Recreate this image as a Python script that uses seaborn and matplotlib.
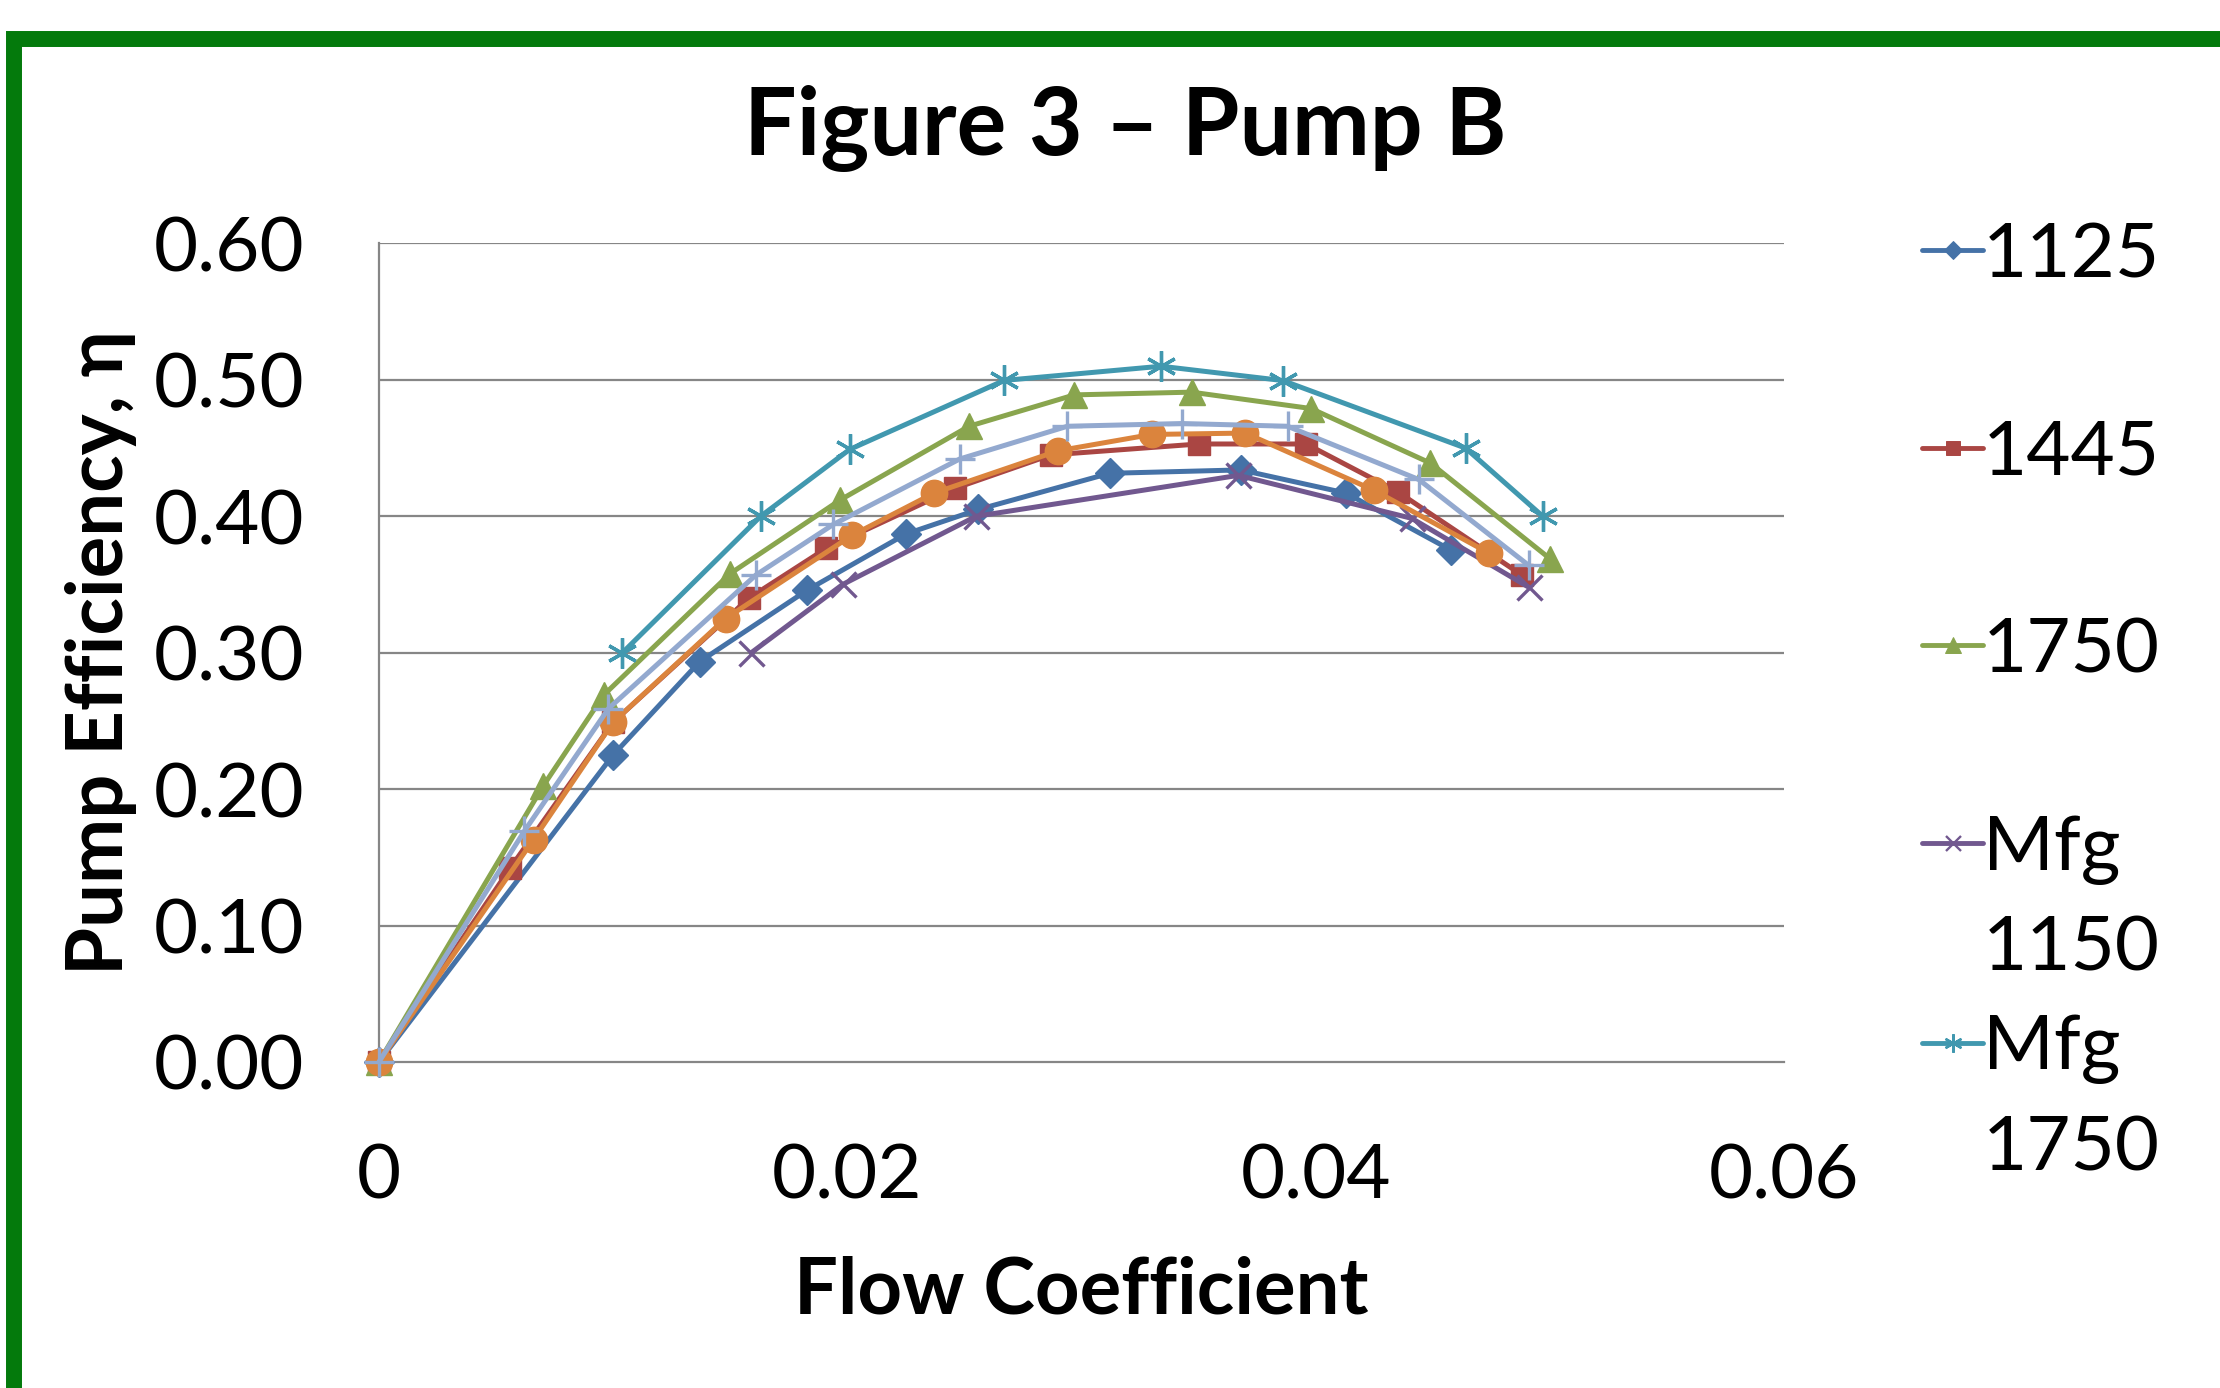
import numpy as np
import pandas as pd
import matplotlib
matplotlib.use("Agg")
import matplotlib.pyplot as plt
from matplotlib.lines import Line2D
from matplotlib.patches import Rectangle
import seaborn as sns

# ===============================
# DATA
# ===============================
phi_1125 = [0, 0.0100, 0.0137, 0.0183, 0.0225, 0.0256, 0.0312, 0.0368, 0.0413, 0.0458]
eta_1125 = [0, 0.225, 0.2935, 0.346, 0.387, 0.405, 0.4315, 0.434, 0.417, 0.375]

phi_1445 = [0, 0.0056, 0.0100, 0.0158, 0.0191, 0.0246, 0.0287, 0.0350, 0.0396, 0.0435, 0.0488]
eta_1445 = [0, 0.142, 0.249, 0.340, 0.3765, 0.4205, 0.445, 0.453, 0.453, 0.418, 0.357]

phi_1750 = [0, 0.0070, 0.0096, 0.0150, 0.0197, 0.0252, 0.0297, 0.0347, 0.0398, 0.0449, 0.0500]
eta_1750 = [0, 0.202, 0.269, 0.358, 0.412, 0.466, 0.489, 0.491, 0.479, 0.439, 0.369]

phi_mfg1150 = [0.0159, 0.0198, 0.0255, 0.0367, 0.0441, 0.0491]
eta_mfg1150 = [0.300, 0.350, 0.400, 0.430, 0.3985, 0.348]

phi_mfg1750 = [0.0104, 0.0163, 0.0201, 0.0267, 0.0334, 0.0386, 0.0464, 0.0497]
eta_mfg1750 = [0.300, 0.400, 0.449, 0.4996, 0.510, 0.4995, 0.450, 0.400]

# two more series on the plot whose legend entries are cut off
phi_s6 = [0, 0.0066, 0.0100, 0.0148, 0.0202, 0.0237, 0.0290, 0.0330, 0.0370, 0.0425, 0.0474]
eta_s6 = [0, 0.163, 0.249, 0.325, 0.386, 0.417, 0.448, 0.460, 0.461, 0.419, 0.373]

phi_s7 = [0, 0.0062, 0.0098, 0.0161, 0.0194, 0.0248, 0.0294, 0.0343, 0.0388, 0.0444, 0.0491]
eta_s7 = [0, 0.169, 0.259, 0.357, 0.394, 0.442, 0.466, 0.468, 0.466, 0.427, 0.364]

series_names = ["1125", "1445", "1750", "Mfg 1150", "Mfg 1750", "s6", "s7"]
legend_labels = ["1125", "1445", "1750", "Mfg\n1150", "Mfg\n1750"]
phis = [phi_1125, phi_1445, phi_1750, phi_mfg1150, phi_mfg1750, phi_s6, phi_s7]
etas = [eta_1125, eta_1445, eta_1750, eta_mfg1150, eta_mfg1750, eta_s6, eta_s7]

y_ticks = [0.0, 0.1, 0.2, 0.3, 0.4, 0.5, 0.6]
x_ticks = [0, 0.02, 0.04, 0.06]
x_ticklabels = ["0", "0.02", "0.04", "0.06"]

df = pd.concat([pd.DataFrame({"series": n, "phi": p, "eta": e})
                for n, p, e in zip(series_names, phis, etas)], ignore_index=True)

# ===============================
# STYLE
# ===============================
colors = ["#4572A7", "#AA4643", "#89A54E", "#71588F", "#4198AF", "#DB843D", "#93A9CF"]
markers = ["D", "s", "^", "x", (6, 2, 0), "o", "+"]
msizes = [15, 16, 19, 18, 22, 19, 22]
mews = [1, 1, 1, 2.4, 2.4, 1, 2.4]
line_w = 3.6

sns.set_style("white")
plt.rcParams["font.family"] = ["Lato", "DejaVu Sans"]
plt.rcParams["text.color"] = "black"
plt.rcParams["axes.labelcolor"] = "black"

fig = plt.figure(figsize=(22.2, 13.88), dpi=100)
ax = fig.add_axes([0.1707, 0.2349, 0.8036 - 0.1707, 0.8246 - 0.2349])

grid_c = "#868686"
for yv in y_ticks[1:]:
    ax.axhline(yv, color=grid_c, lw=1.6, zorder=0)

for i, name in enumerate(series_names):
    sub = df[df["series"] == name]
    n_before = len(ax.lines)
    sns.lineplot(data=sub, x="phi", y="eta", ax=ax, sort=False, estimator=None,
                 color=colors[i], marker=markers[i], markersize=msizes[i],
                 markeredgecolor=colors[i], markerfacecolor=colors[i],
                 markeredgewidth=mews[i], clip_on=False, zorder=3 + i)
    # make sure the line width sticks
    for ln in ax.lines[n_before:]:
        ln.set_linewidth(line_w)

ax.set_xlim(0, 0.06)
ax.set_ylim(0, 0.6)
ax.set_xticks(x_ticks)
ax.set_xticklabels(x_ticklabels)
ax.set_yticks(y_ticks)
ax.set_yticklabels([f"{v:.2f}" for v in y_ticks])
ax.tick_params(axis="both", labelsize=55, colors=grid_c, labelcolor="black",
               width=1.6, direction="out")
ax.tick_params(axis="y", length=20, pad=34)
ax.tick_params(axis="x", length=18, pad=40)

for s in ["top", "right"]:
    ax.spines[s].set_visible(False)
for s in ["left", "bottom"]:
    ax.spines[s].set_color(grid_c)
    ax.spines[s].set_linewidth(1.6)

ax.set_xlabel("Flow Coefficient", fontsize=56, fontweight="bold", labelpad=32)
ax.set_ylabel("Pump Efficiency, \u03b7", fontsize=56, fontweight="bold", labelpad=12)

fig.text(0.507, 1 - 128 / 1388, "Figure 3 \u2013 Pump B", fontsize=67,
         fontweight="bold", ha="center", va="center")

# legend (only the first five entries are visible in the original)
handles = []
labels = []
for i, lab in enumerate(legend_labels):
    h = Line2D([], [], color=colors[i], lw=3.5, marker=markers[i],
               markersize=msizes[i] * 0.6, markeredgecolor=colors[i],
               markerfacecolor=colors[i], markeredgewidth=mews[i] * 0.7)
    blank = Line2D([], [], ls="none")
    first, *rest = lab.split("\n")
    handles.append(h)
    labels.append(first)
    if rest:
        handles.append(blank)
        labels.append(rest[0])
    elif i < len(legend_labels) - 1:
        handles.append(blank)
        labels.append(" ")
fig.legend(handles, labels, loc="upper left", bbox_to_anchor=(1922 / 2220, 1 - 221 / 1388),
           frameon=False, fontsize=55, handlelength=0.8, handletextpad=0.0,
           labelspacing=0.39, borderpad=0, borderaxespad=0)

# green frame
fig.patches.append(Rectangle((14 / 2220, -0.2), 1.2, 1.2 - 39 / 1388, fill=False,
                             edgecolor="#047A0C", lw=11.5, transform=fig.transFigure,
                             figure=fig))

fig.savefig("out.png", dpi=100)
